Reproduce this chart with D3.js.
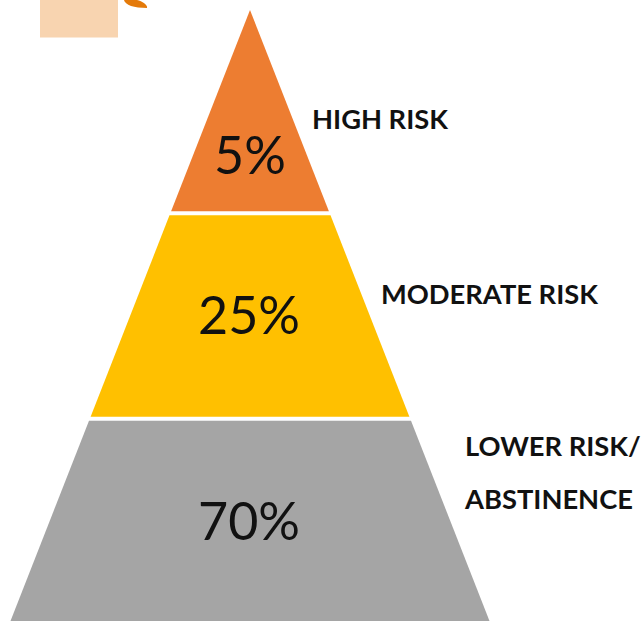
<!DOCTYPE html>
<html>
<head>
<meta charset="utf-8">
<script src="https://cdn.jsdelivr.net/npm/d3@7"></script>
<style>
  html, body { margin: 0; padding: 0; background: #ffffff; overflow: hidden; }
  svg { display: block; }
</style>
</head>
<body>
<svg id="chart" width="642" height="621"></svg>
<script>
// ---- data ----
const levels = ["HIGH RISK", "MODERATE RISK", "LOWER RISK/ ABSTINENCE"];
const shares = [5, 25, 70];
const labelLines = [["HIGH RISK"], ["MODERATE RISK"], ["LOWER RISK/", "ABSTINENCE"]];
const colors = ["#ED7D31", "#FFC000", "#A5A5A5"];

// ---- layout ----
const cx = 250, apexY = 10, baseY = 622;
const svg = d3.select("#chart");

// decorative fragments at top (cropped parts of the original slide)
svg.append("rect").attr("x", 40).attr("y", 0).attr("width", 78).attr("height", 37.5).attr("fill", "#F8D4B0");
svg.append("path")
  .attr("d", "M124,0 C125,5 134,8 147,8 C148,5 142,1 137,0 Z")
  .attr("fill", "#E47A0A");

const yBand = d3.scaleBand().domain(levels).range([apexY, baseY]).paddingInner(0.02);
const halfW = d3.scaleLinear().domain([apexY, 621]).range([0, 239.5]);

const tiers = levels.map((lv, i) => {
  const y0 = yBand(lv), y1 = y0 + yBand.bandwidth();
  return { lv, i, y0, y1, share: shares[i], lines: labelLines[i], color: colors[i] };
});

const g = svg.append("g");
g.selectAll("path.tier").data(tiers).join("path")
  .attr("class", "tier")
  .attr("fill", d => d.color)
  .attr("d", d => {
    const a = halfW(d.y0), b = halfW(d.y1);
    return d3.line()([[cx - a, d.y0], [cx + a, d.y0], [cx + b, d.y1], [cx - b, d.y1]]) + "Z";
  });

// percentage texts
g.selectAll("text.pct").data(tiers).join("text")
  .attr("class", "pct")
  .attr("x", d => d.i === 0 ? cx : cx - 1)
  .attr("y", d => d.i === 0 ? d.y0 + yBand.bandwidth() * 0.725 : (d.y0 + d.y1) / 2)
  .attr("dy", "0.35em")
  .attr("text-anchor", "middle")
  .attr("font-family", "Lato, 'Open Sans', sans-serif")
  .attr("font-size", 52)
  .attr("fill", "#111111")
  .text(d => d.share + "%");

// side labels
const labelPos = [{ x: 312, y: 129 }, { x: 381, y: 304 }, { x: 465, y: 456 }];
const lineGap = 53;
tiers.forEach(d => {
  const p = labelPos[d.i];
  const t = g.append("text")
    .attr("font-family", "Lato, 'Open Sans', sans-serif")
    .attr("font-weight", 700)
    .attr("font-size", 27.3)
    .attr("fill", "#111111");
  d.lines.forEach((ln, k) => {
    t.append("tspan").attr("x", p.x).attr("y", p.y + k * lineGap).text(ln);
  });
});
</script>
</body>
</html>
